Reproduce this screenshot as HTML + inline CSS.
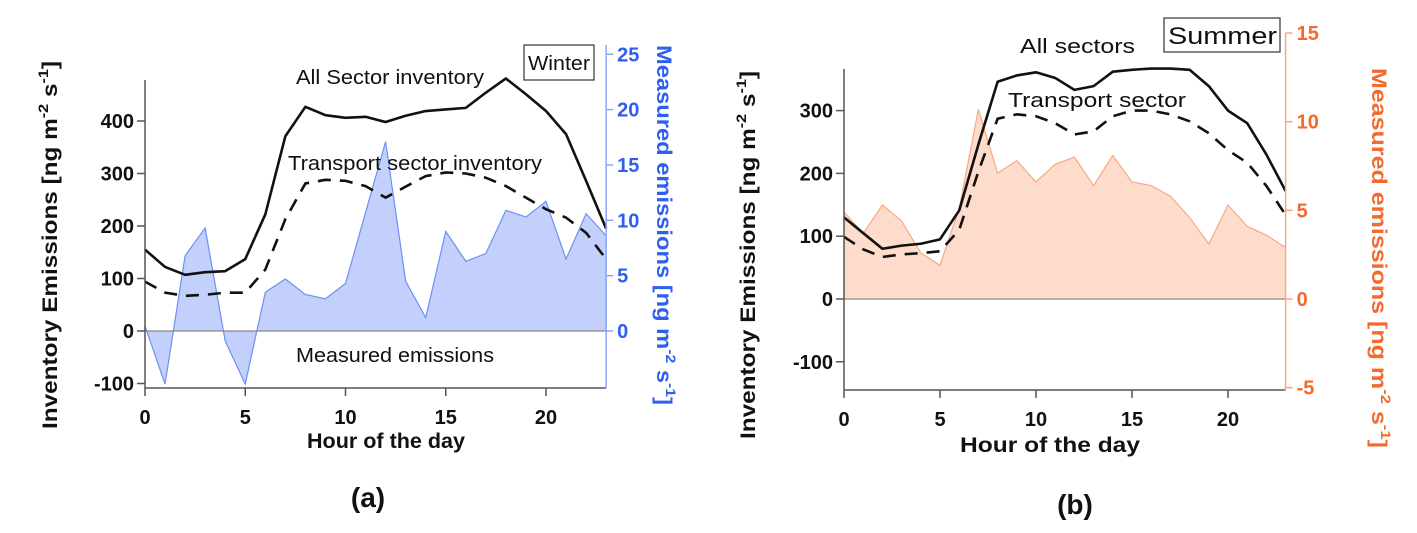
<!DOCTYPE html>
<html><head><meta charset="utf-8">
<style>
html,body{margin:0;padding:0;background:#fff;}
svg{display:block;font-family:"Liberation Sans",Arial,sans-serif;}
.tk{font-size:20px;font-weight:bold;}
.ttl{font-size:21px;font-weight:bold;}
.ann{font-size:20px;}
</style></head>
<body>
<svg id="fig" width="1417" height="533" viewBox="0 0 1417 533"></svg>
<script>
const hours=[0,1,2,3,4,5,6,7,8,9,10,11,12,13,14,15,16,17,18,19,20,21,22,23];
const winterAll=[155,122,107,112,114,137,222,371,427,411,406,408,398,410,419,422,425,454,481,451,419,375,286,195];
const winterTransport=[94,73,67,69,73,73,117,213,281,288,286,276,254,275,295,302,300,292,276,254,232,216,187,137];
const winterMeasured=[0.45,-4.8,6.8,9.3,-0.9,-4.8,3.5,4.7,3.3,2.9,4.3,10.7,17.1,4.5,1.2,9.0,6.3,7.0,10.9,10.3,11.7,6.5,10.6,8.6];
const summerAll=[130,105,80,85,88,95,141,246,346,356,361,352,333,339,362,365,367,367,365,339,300,280,230,172];
const summerTransport=[99,79,67,71,73,76,110,203,287,294,291,280,262,267,291,300,300,294,283,264,237,217,180,134];
const summerMeasured=[4.9,3.7,5.3,4.4,2.6,1.9,5.1,10.7,7.1,7.8,6.6,7.6,8.0,6.4,8.1,6.6,6.4,5.8,4.6,3.1,5.3,4.1,3.6,2.9];
const xTicks=[0,5,10,15,20];
const winterLeftTicks=[-100,0,100,200,300,400];
const winterRightTicks=[0,5,10,15,20,25];
const summerLeftTicks=[-100,0,100,200,300];
const summerRightTicks=[-5,0,5,10,15];

const NS="http://www.w3.org/2000/svg";
const svg=document.getElementById('fig');
function el(tag,attrs,parent,text){
  const e=document.createElementNS(NS,tag);
  for(const k in attrs) e.setAttribute(k,attrs[k]);
  if(text!==undefined) e.textContent=text;
  (parent||svg).appendChild(e);
  return e;
}

function panel(cfg){
  const g=el('g',{});
  
  
  const X=h=>cfg.x0+h*cfg.hs;
  const YL=v=>cfg.y0-v*cfg.lscale;
  const YR=v=>cfg.y0-v*cfg.rscale;
  const xEnd=X(23);
  let d='M'+X(0)+','+YR(0);
  hours.forEach((h,i)=>{d+=' L'+X(h)+','+YR(cfg.meas[i]);});
  d+=' L'+X(23)+','+YR(0)+' Z';
  const area=el('path',{d:d,fill:cfg.fill,stroke:'none'},g);
  
  
  const ml=el('polyline',{points:hours.map((h,i)=>X(h)+','+YR(cfg.meas[i])).join(' '),fill:'none',stroke:cfg.line,'stroke-width':1.2},g);
  
  
  const z=el('line',{x1:cfg.x0,x2:xEnd,y1:cfg.y0,y2:cfg.y0,stroke:'#888','stroke-width':1.2},g);
  
  
  const al=el('polyline',{points:hours.map((h,i)=>X(h)+','+YL(cfg.all[i])).join(' '),fill:'none',stroke:'#111','stroke-width':2.6,'stroke-linejoin':'round'},g);
  
  
  const tl=el('polyline',{points:hours.map((h,i)=>X(h)+','+YL(cfg.tr[i])).join(' '),fill:'none',stroke:'#111','stroke-width':2.6,'stroke-dasharray':'13,9'},g);
  
  
  const la=el('line',{x1:cfg.x0,x2:cfg.x0,y1:cfg.laTop,y2:cfg.xAxisY,stroke:'#555','stroke-width':1.5},g);
  
  
  cfg.lt.forEach(v=>{
    el('line',{x1:cfg.x0-8,x2:cfg.x0,y1:YL(v),y2:YL(v),stroke:'#555','stroke-width':1.5},g);
    const t=el('text',{x:cfg.x0-11,y:YL(v)+7,'text-anchor':'end',class:'tk',fill:'#111'},g,String(v));
    
    
  });
  const xa=el('line',{x1:cfg.x0,x2:xEnd,y1:cfg.xAxisY,y2:cfg.xAxisY,stroke:'#555','stroke-width':1.5},g);
  
  
  xTicks.forEach(v=>{
    el('line',{x1:X(v),x2:X(v),y1:cfg.xAxisY,y2:cfg.xAxisY+8,stroke:'#555','stroke-width':1.5},g);
    const t=el('text',{x:X(v),y:cfg.xAxisY+36,'text-anchor':'middle',class:'tk',fill:'#111'},g,String(v));
    
    
  });
  const ra=el('line',{x1:xEnd,x2:xEnd,y1:cfg.raTop,y2:cfg.raBot,stroke:cfg.axc,'stroke-width':1.5},g);
  
  
  cfg.rt.forEach(v=>{
    el('line',{x1:xEnd,x2:xEnd+7,y1:YR(v),y2:YR(v),stroke:cfg.axc,'stroke-width':1.5},g);
    const t=el('text',{x:xEnd+11,y:YR(v)+7,class:'tk',fill:cfg.txc},g,String(v));
    
    
  });
  return g;
}

panel({name:'winter-chart',x0:145,hs:20.05,y0:331,lscale:0.525,rscale:11.07,all:winterAll,tr:winterTransport,meas:winterMeasured,
  fill:'#c3d0fb',line:'#6f8ff5',axc:'#8aa4f7',txc:'#2e5ff0',lt:winterLeftTicks,rt:winterRightTicks,laTop:80,xAxisY:388,raTop:45,raBot:388});
panel({name:'summer-chart',x0:844,hs:19.2,y0:299,lscale:0.628,rscale:17.73,all:summerAll,tr:summerTransport,meas:summerMeasured,
  fill:'#fddccb',line:'#f9a884',axc:'#f9a884',txc:'#f26a2e',lt:summerLeftTicks,rt:summerRightTicks,laTop:69,xAxisY:390,raTop:33,raBot:390});
</script>
<svg style="position:absolute;left:0;top:0" width="1417" height="533">
  <g font-family="Liberation Sans, Arial, sans-serif">
    <text class="ttl" transform="translate(57,245) rotate(-90)" text-anchor="middle" fill="#111" textLength="368" lengthAdjust="spacingAndGlyphs">Inventory Emissions [ng m<tspan font-size="14" dy="-9">-2</tspan><tspan dy="9"> s</tspan><tspan font-size="14" dy="-9">-1</tspan><tspan dy="9">]</tspan></text>
    <text class="ttl" transform="translate(657,225) rotate(90)" text-anchor="middle" fill="#2e5ff0" textLength="360" lengthAdjust="spacingAndGlyphs">Measured emissions [ng m<tspan font-size="14" dy="-9">-2</tspan><tspan dy="9"> s</tspan><tspan font-size="14" dy="-9">-1</tspan><tspan dy="9">]</tspan></text>
    <text class="ttl" x="386" y="448" text-anchor="middle" fill="#111" textLength="158" lengthAdjust="spacingAndGlyphs">Hour of the day</text>
    <text class="ann" x="296" y="84" fill="#111" textLength="188" lengthAdjust="spacingAndGlyphs">All Sector inventory</text>
    <text class="ann" x="288" y="170" fill="#111" textLength="254" lengthAdjust="spacingAndGlyphs">Transport sector inventory</text>
    <text class="ann" x="296" y="362" fill="#111" textLength="198" lengthAdjust="spacingAndGlyphs">Measured emissions</text>
    <rect x="524" y="45" width="70" height="35" fill="#fff" stroke="#333" stroke-width="1.2"/>
    <text class="ann" x="528" y="70" fill="#111" textLength="62" lengthAdjust="spacingAndGlyphs">Winter</text>
    <text x="368" y="507" text-anchor="middle" font-size="28" font-weight="bold" fill="#111">(a)</text>

    <text class="ttl" transform="translate(755,255) rotate(-90)" text-anchor="middle" fill="#111" textLength="368" lengthAdjust="spacingAndGlyphs">Inventory Emissions [ng m<tspan font-size="14" dy="-9">-2</tspan><tspan dy="9"> s</tspan><tspan font-size="14" dy="-9">-1</tspan><tspan dy="9">]</tspan></text>
    <text class="ttl" transform="translate(1372,258) rotate(90)" text-anchor="middle" fill="#f26a2e" textLength="380" lengthAdjust="spacingAndGlyphs">Measured emissions [ng m<tspan font-size="14" dy="-9">-2</tspan><tspan dy="9"> s</tspan><tspan font-size="14" dy="-9">-1</tspan><tspan dy="9">]</tspan></text>
    <text class="ttl" x="1050" y="452" text-anchor="middle" fill="#111" textLength="180" lengthAdjust="spacingAndGlyphs">Hour of the day</text>
    <text class="ann" x="1020" y="53" fill="#111" textLength="115" lengthAdjust="spacingAndGlyphs">All sectors</text>
    <text class="ann" x="1008" y="107" fill="#111" textLength="178" lengthAdjust="spacingAndGlyphs">Transport sector</text>
    <rect x="1164" y="18" width="116" height="34" fill="#fff" stroke="#333" stroke-width="1.2"/>
    <text x="1168" y="44" font-size="24" fill="#111" textLength="109" lengthAdjust="spacingAndGlyphs">Summer</text>
    <text x="1075" y="514" text-anchor="middle" font-size="28" font-weight="bold" fill="#111">(b)</text>
  </g>
</svg>
</body></html>
